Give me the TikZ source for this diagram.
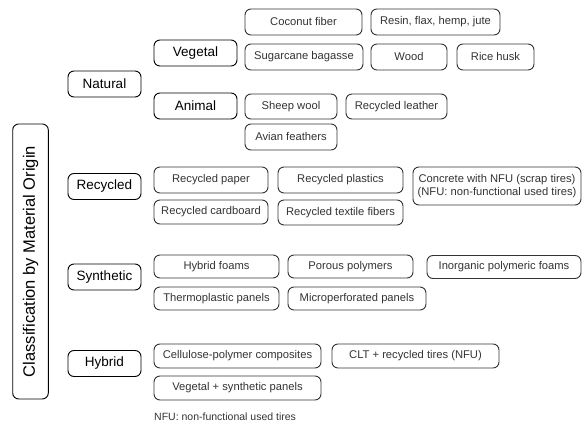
\documentclass[tikz,border=0pt]{standalone}
\usepackage{fontspec}
\setmainfont{Liberation Sans}
\usepackage{xcolor}
\usepackage{tikz}
\usetikzlibrary{positioning}

\definecolor{leafgray}{HTML}{333333}

\begin{document}
\begin{tikzpicture}[x=1pt, y=-1pt,
  catbox/.style={draw=black, line width=0.9pt, rounded corners=6pt, minimum height=26, inner sep=2pt, font=\fontsize{13.5}{15}\selectfont},
  leafbox/.style={draw=leafgray, line width=0.9pt, rounded corners=6pt, minimum height=25, inner sep=2pt, text=leafgray, font=\fontsize{11.2}{13.5}\selectfont}]
\useasboundingbox (0,0) rectangle (582,427);

% root label
\node[catbox, rotate=90, minimum width=275, minimum height=35.6, font=\fontsize{16.5}{18}\selectfont] (root) at (30.5,261.5) {Classification by Material Origin};

% main groups
\node[catbox, minimum width=73] (natural) at (104.5,84) {Natural};
\node[catbox, minimum width=73] (recycled) at (104.5,186.5) {Recycled};
\node[catbox, minimum width=73] (synthetic) at (104.5,277) {Synthetic};
\node[catbox, minimum width=73] (hybrid) at (104.5,363.5) {Hybrid};

% natural subgroups
\node[catbox, minimum width=83] (vegetal) at (195.5,53) {Vegetal};
\node[catbox, minimum width=83] (animal) at (195.5,106) {Animal};

% vegetal
\node[leafbox, minimum width=117, minimum height=26] (coconut) at (303.5,22) {Coconut fiber};
\node[leafbox, minimum width=129, minimum height=26] (resin) at (435.5,22) {Resin, flax, hemp, jute};
\node[leafbox, minimum width=118, minimum height=26] (bagasse) at (304,57) {Sugarcane bagasse};
\node[leafbox, minimum width=76, minimum height=26] (wood) at (409,57) {Wood};
\node[leafbox, minimum width=77, minimum height=26] (husk) at (495.5,57) {Rice husk};

% animal
\node[leafbox, minimum width=92] (wool) at (291,106.5) {Sheep wool};
\node[leafbox, minimum width=101] (leather) at (396.5,106.5) {Recycled leather};
\node[leafbox, minimum width=92, minimum height=26] (feathers) at (291,137) {Avian feathers};

% recycled
\node[leafbox, minimum width=114, minimum height=26] (paper) at (211,180) {Recycled paper};
\node[leafbox, minimum width=125, minimum height=26] (plastics) at (340.5,180) {Recycled plastics};
\node[leafbox, minimum width=168, minimum height=38, align=center] (concrete) at (497,186) {Concrete with NFU (scrap tires)\\(NFU: non-functional used tires)};
\node[leafbox, minimum width=114, minimum height=24] (cardboard) at (211,212) {Recycled cardboard};
\node[leafbox, minimum width=125] (textile) at (340.5,212.5) {Recycled textile fibers};

% synthetic
\node[leafbox, minimum width=125, minimum height=23] (hfoams) at (216.5,266.5) {Hybrid foams};
\node[leafbox, minimum width=125, minimum height=23] (porous) at (350.5,266.5) {Porous polymers};
\node[leafbox, minimum width=154, minimum height=23] (inorganic) at (504,267) {Inorganic polymeric foams};
\node[leafbox, minimum width=125, minimum height=23] (thermo) at (216.5,298.5) {Thermoplastic panels};
\node[leafbox, minimum width=138, minimum height=23] (microperf) at (357,298.5) {Microperforated panels};

% hybrid
\node[leafbox, minimum width=167, minimum height=24] (cellulose) at (237.5,356) {Cellulose-polymer composites};
\node[leafbox, minimum width=167, minimum height=24] (clt) at (415.5,356) {CLT + recycled tires (NFU)};
\node[leafbox, minimum width=167, minimum height=24] (vegsyn) at (237.5,388) {Vegetal + synthetic panels};

% footnote
\node[anchor=west, inner sep=0pt, text=leafgray, font=\fontsize{10.5}{12}\selectfont] (note) at (154,417) {NFU: non-functional used tires};
\end{tikzpicture}
\end{document}
